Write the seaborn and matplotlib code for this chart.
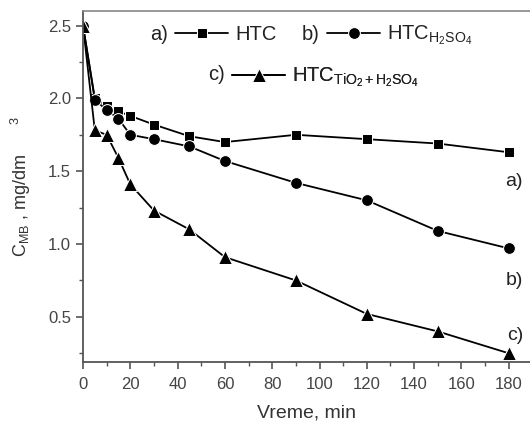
import numpy as np
import matplotlib
matplotlib.use('Agg')
import matplotlib.pyplot as plt
import pandas as pd
import seaborn as sns

# time points (min) and concentrations (mg/dm3)
time = [0, 5, 10, 15, 20, 30, 45, 60, 90, 120, 150, 180]
htc = [2.5, 2.00, 1.95, 1.91, 1.88, 1.82, 1.74, 1.70, 1.75, 1.72, 1.69, 1.63]
htc_h2so4 = [2.5, 1.99, 1.92, 1.86, 1.75, 1.72, 1.67, 1.57, 1.42, 1.30, 1.09, 0.97]
htc_tio2 = [2.5, 1.78, 1.75, 1.59, 1.41, 1.23, 1.10, 0.91, 0.75, 0.52, 0.40, 0.25]

sns.set_style('ticks')
plt.rcParams['font.family'] = ['Liberation Sans', 'DejaVu Sans']
plt.rcParams['mathtext.fontset'] = 'custom'
plt.rcParams['mathtext.rm'] = 'Liberation Sans'
plt.rcParams['mathtext.it'] = 'Liberation Sans:italic'

fig = plt.figure(figsize=(5.3, 4.23), dpi=100)
ax = fig.add_axes([83/530, 1-362/423, 1-83/530, (362-11)/423])

sns.lineplot(x=time, y=htc, marker='s', markersize=7.5, color='black', lw=1.3, ax=ax)
sns.lineplot(x=time, y=htc_h2so4, marker='o', markersize=8.5, color='black', lw=1.3, ax=ax)
sns.lineplot(x=time, y=htc_tio2, marker='^', markersize=9.5, color='black', lw=1.3, ax=ax)

ax.set_xlim(0, 189)
ax.set_ylim(0.19, 2.6)
ax.set_xticks(np.arange(0, 181, 20))
ax.set_xticks(np.arange(10, 190, 20), minor=True)
ax.set_yticks([0.5, 1.0, 1.5, 2.0, 2.5])
ax.set_yticks([0.25, 0.75, 1.25, 1.75, 2.25], minor=True)
ax.tick_params(which='both', direction='out', colors='#555555', labelcolor='#444444', labelsize=12)
ax.tick_params(which='major', length=5, width=1.2)
ax.tick_params(axis='x', which='major', pad=6)
ax.tick_params(which='minor', length=3, width=1.0)
for side in ['left', 'bottom']:
    ax.spines[side].set_color('#555555')
    ax.spines[side].set_linewidth(1.3)
ax.spines['top'].set_color('#888888')
ax.spines['top'].set_linewidth(1.2)
ax.spines['right'].set_visible(False)

ax.set_xlabel('Vreme, min', fontsize=14, color='#333333', labelpad=9)
ax.set_ylabel(r'$\mathregular{C_{MB}}$ , mg/dm      $^{\mathregular{3}}$', fontsize=13,
              color='#333333', labelpad=11)

# legend, one entry each, with a) b) c) prefixes
lines = ax.lines
labels = ['HTC', r'HTC$_{\mathregular{H_2SO_4}}$', r'HTC$_{\mathregular{TiO_2+H_2SO_4}}$']
pos = [(0.206, 0.932), (0.546, 0.930), (0.333, 0.810)]
tags = ['a)', 'b)', 'c)']
for ln, lab, (px, py), tag in zip(lines, labels, pos, tags):
    leg = ax.legend([ln], [lab], loc='center left', bbox_to_anchor=(px, py), frameon=False,
                    fontsize=14.5, handlelength=2.65, handletextpad=0.34, borderpad=0,
                    borderaxespad=0, labelcolor='#222222')
    ax.add_artist(leg)
ax.text(0.190, 0.932, 'a)', transform=ax.transAxes, ha='right', va='center', fontsize=14.5, color='#222222')
ax.text(0.530, 0.932, 'b)', transform=ax.transAxes, ha='right', va='center', fontsize=14.5, color='#222222')
ax.text(0.318, 0.818, 'c)', transform=ax.transAxes, ha='right', va='center', fontsize=14.5, color='#222222')

# curve tags at the right side
ax.text(186, 1.43, 'a)', ha='right', va='center', fontsize=14, color='#222222')
ax.text(186, 0.75, 'b)', ha='right', va='center', fontsize=14, color='#222222')
ax.text(186, 0.37, 'c)', ha='right', va='center', fontsize=14, color='#222222')

fig.savefig('out.png', dpi=100)
